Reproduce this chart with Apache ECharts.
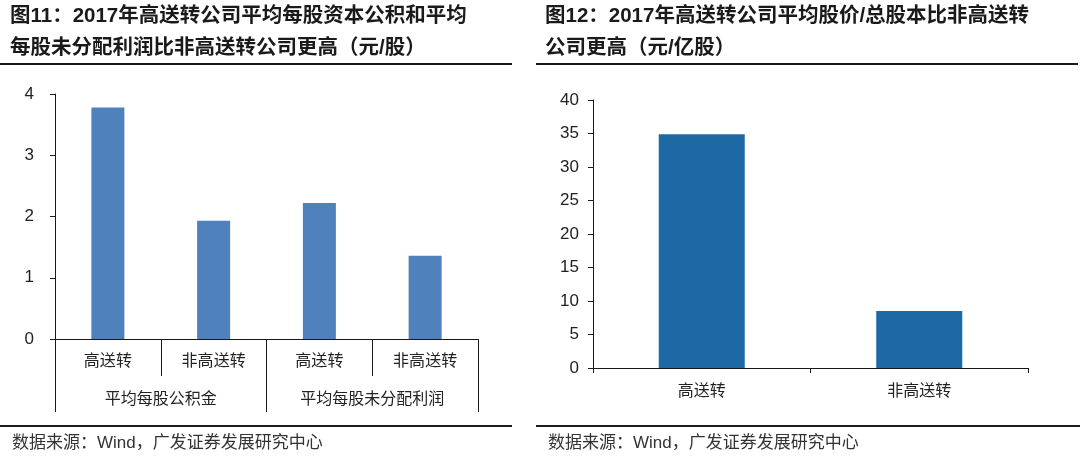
<!DOCTYPE html>
<html>
<head>
<meta charset="utf-8">
<script src="https://cdn.jsdelivr.net/npm/echarts@6/dist/echarts.min.js"></script>
<style>
html,body{margin:0;padding:0;background:#fff;}
#c{width:1080px;height:456px;}
</style>
</head>
<body>
<div id="c"></div>
<script>
// ---- data ----
const leftTitle = '图11：2017年高送转公司平均每股资本公积和平均\n每股未分配利润比非高送转公司更高（元/股）';
const rightTitle = '图12：2017年高送转公司平均股价/总股本比非高送转\n公司更高（元/亿股）';
const sourceText = '数据来源：Wind，广发证券发展研究中心';

const leftCategories = ['高送转', '非高送转', '高送转', '非高送转'];
const leftGroups = ['平均每股公积金', '平均每股未分配利润'];
const leftValues = [3.78, 1.93, 2.22, 1.36];
const leftYTicks = { min: 0, max: 4, interval: 1 };

const rightCategories = ['高送转', '非高送转'];
const rightValues = [34.9, 8.5];
const rightYTicks = { min: 0, max: 40, interval: 5 };

// ---- chart ----
const chart = echarts.init(document.getElementById('c'), null, { renderer: 'canvas' });
const CJK = '"Liberation Sans", "Noto Sans CJK SC", sans-serif';
const NUM = '"Liberation Sans", Arial, sans-serif';
const axisColor = '#1a1a1a';

const titleStyle = {
  fontFamily: CJK, fontSize: 20.5, fontWeight: 'bold', color: '#1a1a1a', lineHeight: 32
};

chart.setOption({
  animation: false,
  backgroundColor: '#fff',
  title: [
    { text: leftTitle, left: 10, top: 0, padding: 0, textStyle: titleStyle },
    { text: rightTitle, left: 545, top: 0, padding: 0, textStyle: titleStyle }
  ],
  graphic: [
    { type: 'rect', shape: { x: 0, y: 63, width: 512, height: 2 }, style: { fill: '#1a1a1a' } },
    { type: 'rect', shape: { x: 536, y: 63, width: 542, height: 2 }, style: { fill: '#1a1a1a' } },
    { type: 'rect', shape: { x: 0, y: 425, width: 512, height: 2 }, style: { fill: '#1a1a1a' } },
    { type: 'rect', shape: { x: 536, y: 425, width: 544, height: 2 }, style: { fill: '#1a1a1a' } },
    { type: 'text', left: 12, top: 435, style: { text: sourceText, font: '17px ' + CJK, fill: '#333' } },
    { type: 'text', left: 548, top: 435, style: { text: sourceText, font: '17px ' + CJK, fill: '#333' } }
  ],
  grid: [
    { left: 55, right: 602, top: 94, bottom: 117, containLabel: false },
    { left: 593, right: 52, top: 100, bottom: 88, containLabel: false }
  ],
  xAxis: [
    {
      gridIndex: 0, type: 'category', data: leftCategories, position: 'bottom',
      axisLine: { show: true, lineStyle: { color: axisColor, width: 1 } },
      axisTick: { show: true, length: 37, interval: 0, lineStyle: { color: axisColor } },
      axisLabel: { interval: 0, margin: 15, fontFamily: CJK, fontSize: 16, color: '#222' },
      splitLine: { show: false }
    },
    {
      gridIndex: 0, type: 'category', data: leftGroups, position: 'bottom', offset: 0,
      axisLine: { show: false },
      axisTick: { show: true, length: 73, interval: 0, lineStyle: { color: axisColor } },
      axisLabel: { interval: 0, margin: 53, fontFamily: CJK, fontSize: 16, color: '#222' },
      splitLine: { show: false }
    },
    {
      gridIndex: 1, type: 'category', data: rightCategories, position: 'bottom',
      axisLine: { show: true, lineStyle: { color: axisColor, width: 1 } },
      axisTick: { show: true, length: 5, interval: 0, lineStyle: { color: axisColor } },
      axisLabel: { interval: 0, margin: 16, fontFamily: CJK, fontSize: 16, color: '#222' },
      splitLine: { show: false }
    }
  ],
  yAxis: [
    {
      gridIndex: 0, type: 'value', min: leftYTicks.min, max: leftYTicks.max, interval: leftYTicks.interval,
      axisLine: { show: true, lineStyle: { color: axisColor, width: 1 } },
      axisTick: { show: true, length: 5, lineStyle: { color: axisColor } },
      axisLabel: { margin: 21, fontFamily: NUM, fontSize: 17, color: '#222' },
      splitLine: { show: false }
    },
    {
      gridIndex: 1, type: 'value', min: rightYTicks.min, max: rightYTicks.max, interval: rightYTicks.interval,
      axisLine: { show: true, lineStyle: { color: axisColor, width: 1 } },
      axisTick: { show: true, length: 5, lineStyle: { color: axisColor } },
      axisLabel: { margin: 14, fontFamily: NUM, fontSize: 17, color: '#222' },
      splitLine: { show: false }
    }
  ],
  series: [
    {
      type: 'bar', xAxisIndex: 0, yAxisIndex: 0, data: leftValues,
      barWidth: 33, itemStyle: { color: '#4F81BD' }
    },
    {
      type: 'bar', xAxisIndex: 2, yAxisIndex: 1, data: rightValues,
      barWidth: 86, itemStyle: { color: '#1C69A4' }
    }
  ]
});
</script>
</body>
</html>
